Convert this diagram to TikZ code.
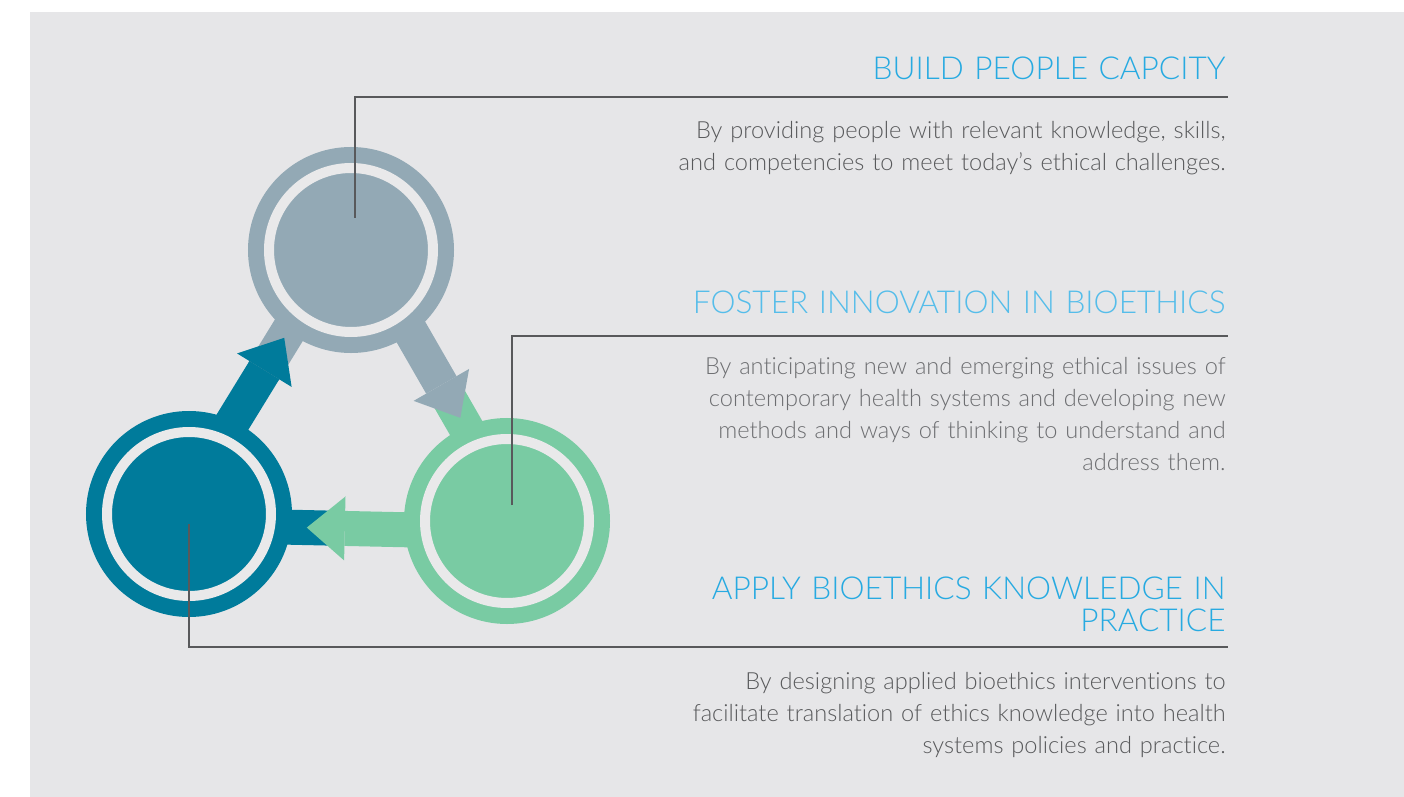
\documentclass[tikz,border=0pt]{standalone}
\usepackage{fontspec}
\setmainfont{Lato}[UprightFont={* Light}, Ligatures=NoCommon]
\usetikzlibrary{calc,arrows.meta}
\definecolor{bggray}{HTML}{E6E6E8}
\definecolor{ringgray}{HTML}{E9E9EA}
\definecolor{capgray}{HTML}{93A9B5}
\definecolor{capteal}{HTML}{007B9B}
\definecolor{capgreen}{HTML}{79CBA3}
\definecolor{headblue}{HTML}{27AAE1}
\definecolor{headlight}{HTML}{55BDEA}
\definecolor{textgray}{HTML}{58595B}
\definecolor{textlight}{HTML}{6D6E71}
\pgfdeclarelayer{back}
\pgfsetlayers{back,main}
\tikzset{
  disc/.style={circle, inner sep=0pt, minimum size=82pt, fill=#1, draw=#1,
    double=ringgray, double distance=5pt, line width=8pt},
  stem/.style={line width=17.5pt, draw=#1},
  flow/.style={line width=17.5pt, draw=#1,
    -{Triangle[length=19pt,width=32pt,line width=0pt]}},
  leader/.style={textgray, line width=.6pt},
  head/.style={headblue, font=\fontsize{15.8}{16}\selectfont, text width=400pt,
    align=right, inner sep=0pt, anchor=base east},
  body/.style={textgray, font=\fontsize{11.8}{16}\selectfont, text width=400pt,
    align=right, inner sep=0pt, anchor=base east},
}
\begin{document}
\begin{tikzpicture}[x=.5pt, y=-.5pt]
\useasboundingbox (0,0) rectangle (1404,797);
\begin{pgfonlayer}{back}
\fill[white] (0,0) rectangle (1404,797);
\fill[bggray] (30,12) rectangle (1404,797);
\end{pgfonlayer}

% circles
\node[disc=capgray] (top) at (351,250) {};
\node[disc=capteal] (left) at (189,514) {};
\node[disc=capgreen] (right) at (507,521) {};

% arrows round the triangle
\foreach \a/\b/\c/\d in {top/right/capgray/capgreen, right/left/capgreen/capteal,
    left/top/capteal/capgray}{
  \coordinate (\a-\b) at ($(\a.center)!5.5pt!90:(\b.center)$);
  \coordinate (\b-\a) at ($(\b.center)!5.5pt!-90:(\a.center)$);
  \begin{pgfonlayer}{back}
  \draw[stem=\d] (\b-\a) -- ($(\b-\a)!75pt!(\a-\b)$);
  \end{pgfonlayer}
  \draw[flow=\c] ($(\a-\b)!45pt!(\b-\a)$) -- ($(\a-\b)!100pt!(\b-\a)$);
}

% texts
\node[head] (h1) at (1226,80) {BUILD PEOPLE CAPCITY};
\node[body] (b1) at (1226,139) {By providing people with relevant knowledge, skills,\\
  and competencies to meet today’s ethical challenges.};
\node[head, headlight] (h2) at (1226,314) {FOSTER INNOVATION IN BIOETHICS};
\node[body, textlight] (b2) at (1226,374) {By anticipating new and emerging ethical issues of\\
  contemporary health systems and developing new\\
  methods and ways of thinking to understand and\\
  address them.};
\node[head] (h3) at (1226,599) {APPLY BIOETHICS KNOWLEDGE IN\\ PRACTICE};
\node[body] (b3) at (1226,689) {By designing applied bioethics interventions to\\
  facilitate translation of ethics knowledge into health\\
  systems policies and practice.};

% leader lines
\coordinate (e1) at (1228,97);
\coordinate (e2) at (1228,336);
\coordinate (e3) at (1228,647);
\draw[leader] ($(top.center)+(4,-32)$) |- (e1);
\draw[leader] ($(right.center)+(5,-16)$) |- (e2);
\draw[leader] ($(left.center)+(0,10)$) |- (e3);
\end{tikzpicture}
\end{document}
